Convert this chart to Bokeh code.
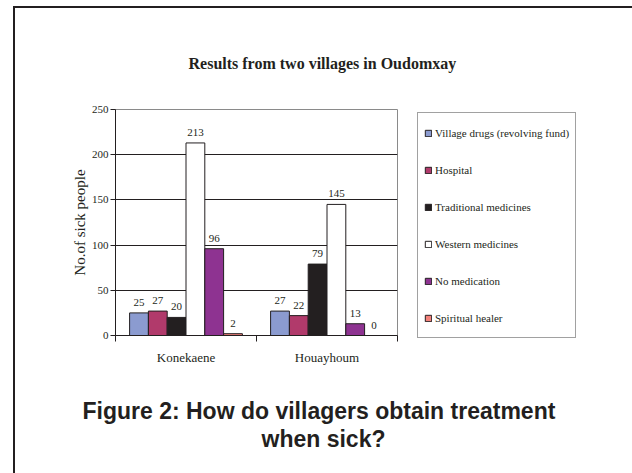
from bokeh.plotting import figure
from bokeh.models import (ColumnDataSource, Range1d, FixedTicker,
                          Legend, LegendItem, Title)
from bokeh.transform import dodge
from bokeh.embed import file_html
from bokeh.resources import INLINE
from bokeh.core.properties import value

# ---- data ----
villages = ["Konekaene", "Houayhoum"]
series = ["Village drugs (revolving fund)", "Hospital", "Traditional medicines",
          "Western medicines", "No medication", "Spiritual healer"]
village_drugs = [25, 27]
hospital = [27, 22]
traditional = [20, 79]
western = [213, 145]
no_medication = [96, 13]
spiritual = [2, 0]
y_ticks = [0, 50, 100, 150, 200, 250]

title_text = "Results from two villages in Oudomxay"
y_label = "No.of sick people"
caption1 = "Figure 2: How do villagers obtain treatment"
caption2 = "when sick?"

colors = ["#8B9BD0", "#B13A6B", "#231F20", "#FFFFFF", "#8E3391", "#F4817A"]

SERIF = "Liberation Serif"
SANS = "Liberation Sans"
INK = "#231F20"

values_list = [village_drugs, hospital, traditional, western, no_medication, spiritual]
keys = ["s%d" % i for i in range(len(series))]
centers = [i + 0.5 for i in range(len(villages))]
data = {"village": villages, "xc": centers}
for k, vals in zip(keys, values_list):
    data[k] = vals
    data[k + "_lbl"] = [str(v) for v in vals]
source = ColumnDataSource(data)

p = figure(frame_width=282, frame_height=226, x_range=Range1d(0, len(villages)),
           y_range=Range1d(0, 250), output_backend="svg", toolbar_location=None,
           min_border_left=115, min_border_right=235, min_border_top=109, min_border_bottom=138)
p.background_fill_color = "white"
p.border_fill_color = None
p.outline_line_color = "#8a8a8a"
p.outline_line_width = 1
p.xgrid.visible = False
p.ygrid.ticker = FixedTicker(ticks=y_ticks[1:-1])
p.ygrid.grid_line_color = INK
p.ygrid.grid_line_width = 1
# outer page frame (left and top rules)
p.styles = {"background": "linear-gradient(#231F20,#231F20) 13px 6px / 2px 100% no-repeat, "
                          "linear-gradient(#231F20,#231F20) 13px 6px / 100% 2px no-repeat"}

# chart title
p.title.text = title_text
p.title.text_font = SERIF
p.title.text_font_size = "16px"
p.title.text_font_style = "bold"
p.title.text_color = INK
p.title.align = "left"
p.title.offset = 73
p.title.standoff = 76

# y axis
ya = p.yaxis[0]
ya.ticker = FixedTicker(ticks=y_ticks)
ya.axis_line_color = INK
ya.major_tick_line_color = INK
ya.major_tick_in = 0
ya.major_tick_out = 5
ya.minor_tick_line_color = None
ya.major_label_text_font = SERIF
ya.major_label_text_font_size = "11px"
ya.major_label_text_color = INK
ya.major_label_standoff = 2
ya.axis_label = y_label
ya.axis_label_text_font = SERIF
ya.axis_label_text_font_size = "15px"
ya.axis_label_text_font_style = "normal"
ya.axis_label_text_color = INK
ya.axis_label_standoff = 1

# x axis: labels at category centres, ticks at category boundaries
xa = p.xaxis[0]
xa.ticker = FixedTicker(ticks=centers, minor_ticks=list(range(len(villages) + 1)))
xa.major_label_overrides = {c: v for c, v in zip(centers, villages)}
xa.axis_line_color = INK
xa.major_tick_line_color = None
xa.major_tick_out = 0
xa.major_tick_in = 0
xa.minor_tick_line_color = INK
xa.minor_tick_in = 0
xa.minor_tick_out = 6
xa.major_label_text_font = SERIF
xa.major_label_text_font_size = "13px"
xa.major_label_text_color = INK
xa.major_label_standoff = 8

# bars
n = len(series)
bar_w = 0.8 / n
items = []
for i, (k, name, c) in enumerate(zip(keys, series, colors)):
    off = (i - (n - 1) / 2) * bar_w
    r = p.vbar(x=dodge("xc", off), top=k, width=bar_w, source=source,
               fill_color=c, line_color=INK, line_width=1)
    p.text(x=dodge("xc", off), y=k, text=k + "_lbl", source=source,
           text_font=value(SERIF), text_font_size="11px", text_color=INK,
           text_align="center", text_baseline="bottom", y_offset=-7)
    items.append(LegendItem(label=name, renderers=[r]))

legend = Legend(items=items, location=(20, -3))
legend.label_text_font = SERIF
legend.label_text_font_size = "11px"
legend.label_text_color = INK
legend.glyph_width = 8
legend.glyph_height = 8
legend.label_height = 27
legend.label_standoff = 3
legend.spacing = 10
legend.padding = 6
legend.margin = 0
legend.border_line_color = "#444444"
legend.border_line_width = 1
legend.background_fill_color = "white"
legend.background_fill_alpha = 1
p.add_layout(legend, "right")

# caption below the chart
spacer = Title(text=" ", text_font_size="1px", standoff=25)
cap1 = Title(text=caption1, text_font=SANS, text_font_size="23px", text_font_style="bold",
             text_color=INK, align="left", offset=-33, standoff=0)
cap2 = Title(text=caption2, text_font=SANS, text_font_size="23px", text_font_style="bold",
             text_color=INK, align="left", offset=146, standoff=0)
p.add_layout(spacer, "below")
p.add_layout(cap1, "below")
p.add_layout(cap2, "below")

open("out.html", "w").write(file_html(p, INLINE))
